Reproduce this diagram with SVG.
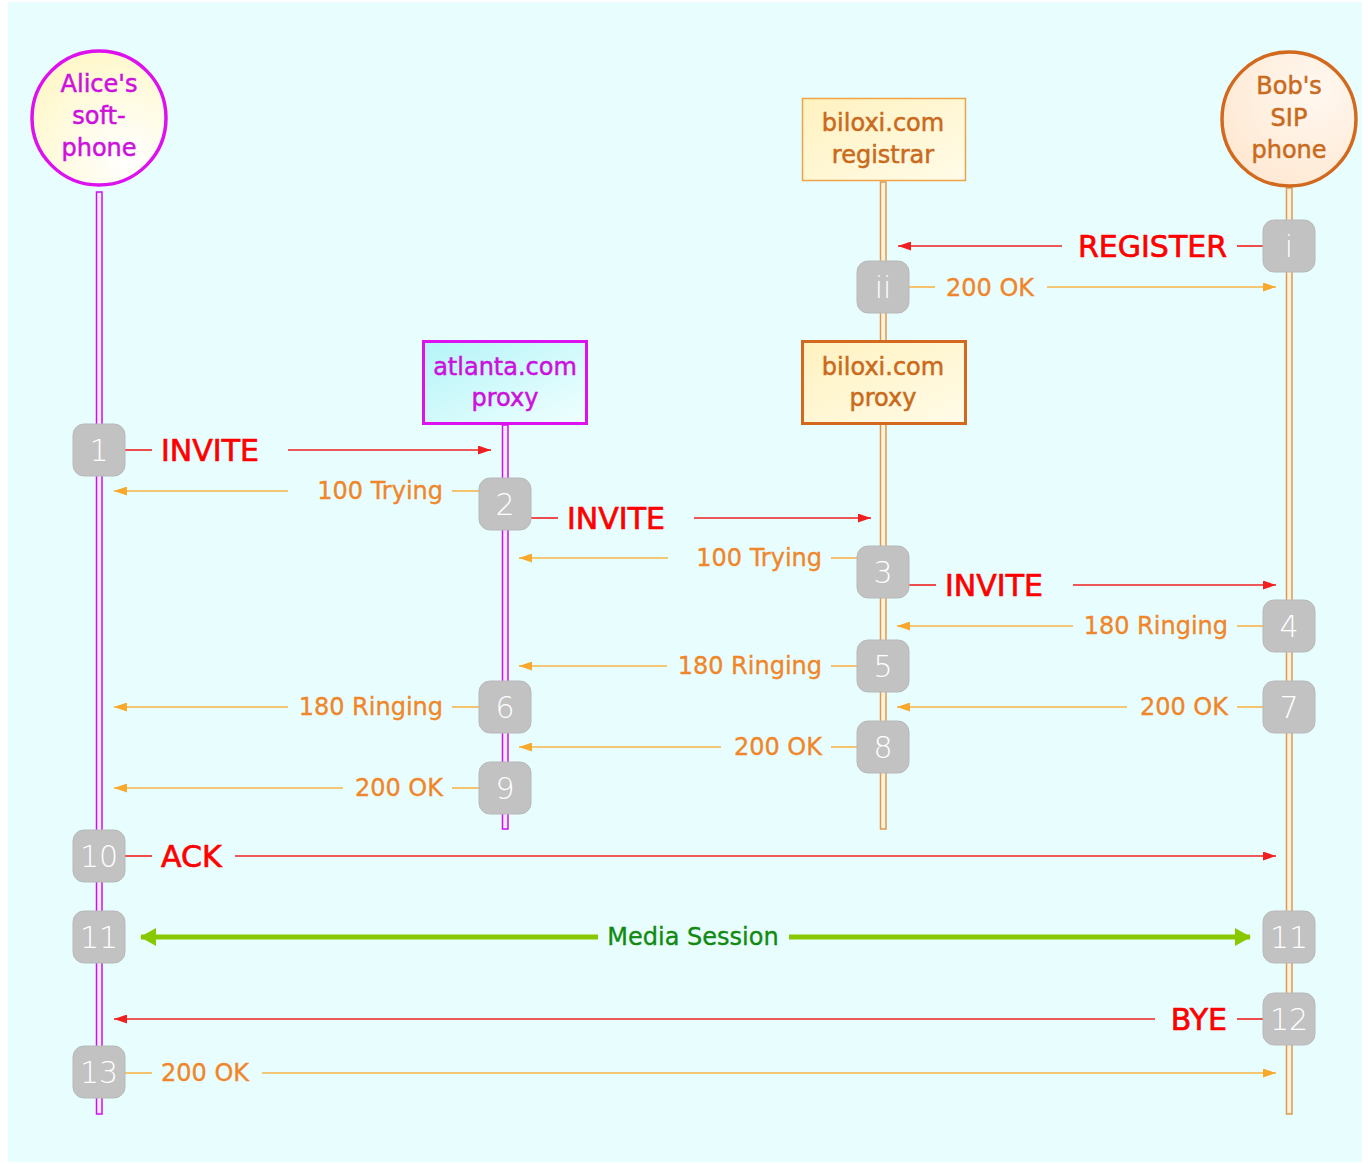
<svg xmlns="http://www.w3.org/2000/svg" width="1368" height="1164" viewBox="0 0 1368 1164">
<defs>
<style>
text{font-family:"DejaVu Sans","Liberation Sans",sans-serif}
.nt{font-size:24px;text-anchor:middle;stroke-width:0.5}
.mag{fill:#cc11dd;stroke:#cc11dd}
.org{fill:#c96a1c;stroke:#c96a1c}
.badge rect{fill:#c2c2c2;stroke:#b8b8b8;stroke-width:1}
.badge text{font-size:30px;fill:#ffffff;text-anchor:middle;font-weight:200}
.red{stroke:#f02020;stroke-width:1.6;fill:none}
.ora{stroke:#f8b44a;stroke-width:1.6;fill:none}
.lr{font-size:30px;fill:#ff0000;stroke:#ff0000;stroke-width:0.7}
.lo{font-size:24px;fill:#f0862a;stroke:#f0862a;stroke-width:0.35}
.end{text-anchor:end}
.llm{fill:#f6eaff;stroke:#cc10f0;stroke-width:1.5}
.llo{fill:#fff3e0;stroke:#dc9a50;stroke-width:1.5}
</style>
<marker id="ar" markerUnits="userSpaceOnUse" markerWidth="13" markerHeight="9" refX="13" refY="4.5" orient="auto"><path d="M0,0 L13,4.5 L0,9 z" fill="#f02020"/></marker>
<marker id="ao" markerUnits="userSpaceOnUse" markerWidth="13" markerHeight="9" refX="13" refY="4.5" orient="auto"><path d="M0,0 L13,4.5 L0,9 z" fill="#f8a82a"/></marker>
<marker id="ag" markerUnits="userSpaceOnUse" markerWidth="16" markerHeight="18" refX="15" refY="9" orient="auto"><path d="M0,0 L16,9 L0,18 z" fill="#88c800"/></marker>
<radialGradient id="gA" cx="0.7" cy="0.8" r="0.8"><stop offset="0" stop-color="#ffffff"/><stop offset="1" stop-color="#fff8cc"/></radialGradient>
<radialGradient id="gB" cx="0.7" cy="0.3" r="0.8"><stop offset="0" stop-color="#fff8f0"/><stop offset="1" stop-color="#ffe8d2"/></radialGradient>
<linearGradient id="gC" x1="0" y1="0" x2="1" y2="1"><stop offset="0" stop-color="#b4f4f8"/><stop offset="1" stop-color="#f0ffff"/></linearGradient>
<linearGradient id="gY" x1="0" y1="0" x2="1" y2="1"><stop offset="0" stop-color="#fff2c0"/><stop offset="1" stop-color="#fffbe8"/></linearGradient>
</defs>
<rect x="0" y="0" width="1368" height="1164" fill="#ffffff"/>
<rect x="8" y="2" width="1354" height="1160" fill="#e8fefe"/>

<g id="lifelines">
<rect class="llm" x="96.5" y="192" width="5.5" height="922"/>
<rect class="llm" x="502.5" y="425" width="5.5" height="404"/>
<rect class="llo" x="880.5" y="182" width="5.5" height="647"/>
<rect class="llo" x="1286.5" y="188" width="5.5" height="926"/>
</g>

<g id="alice">
<circle cx="99" cy="118" r="67" fill="url(#gA)" stroke="#dd11ee" stroke-width="3.5"/>
<text class="nt mag" x="99" y="92">Alice's</text>
<text class="nt mag" x="99" y="124">soft-</text>
<text class="nt mag" x="99" y="156">phone</text>
</g>
<g id="bob">
<circle cx="1289" cy="119" r="67" fill="url(#gB)" stroke="#d2691e" stroke-width="3.5"/>
<text class="nt org" x="1289" y="94">Bob's</text>
<text class="nt org" x="1289" y="126">SIP</text>
<text class="nt org" x="1289" y="158">phone</text>
</g>
<g id="registrar">
<rect x="802.5" y="98.5" width="163" height="82" fill="url(#gY)" stroke="#f0a448" stroke-width="1.5"/>
<text class="nt org" x="883" y="131">biloxi.com</text>
<text class="nt org" x="883" y="163">registrar</text>
</g>
<g id="atlanta">
<rect x="423.5" y="341.5" width="163" height="82" fill="url(#gC)" stroke="#dd11ee" stroke-width="3"/>
<text class="nt mag" x="505" y="375">atlanta.com</text>
<text class="nt mag" x="505" y="406">proxy</text>
</g>
<g id="biloxiproxy">
<rect x="802.5" y="341.5" width="163" height="82" fill="url(#gY)" stroke="#d2691e" stroke-width="3"/>
<text class="nt org" x="883" y="375">biloxi.com</text>
<text class="nt org" x="883" y="406">proxy</text>
</g>

<g id="connectors">
<line class="red" x1="1263" y1="246" x2="1237" y2="246"/>
<text class="lr end" x="1227" y="257">REGISTER</text>
<line class="red" x1="1062" y1="246" x2="898" y2="246" marker-end="url(#ar)"/>
<line class="ora" x1="909" y1="287" x2="935" y2="287"/>
<text class="lo" x="946" y="296">200 OK</text>
<line class="ora" x1="1047" y1="287" x2="1276" y2="287" marker-end="url(#ao)"/>
<line class="red" x1="125" y1="450" x2="152" y2="450"/>
<text class="lr" x="161" y="461">INVITE</text>
<line class="red" x1="288" y1="450" x2="491" y2="450" marker-end="url(#ar)"/>
<line class="ora" x1="479" y1="491" x2="452" y2="491"/>
<text class="lo end" x="443" y="499">100 Trying</text>
<line class="ora" x1="288" y1="491" x2="114" y2="491" marker-end="url(#ao)"/>
<line class="red" x1="531" y1="518" x2="558" y2="518"/>
<text class="lr" x="567" y="529">INVITE</text>
<line class="red" x1="694" y1="518" x2="871" y2="518" marker-end="url(#ar)"/>
<line class="ora" x1="857" y1="558" x2="831" y2="558"/>
<text class="lo end" x="822" y="566">100 Trying</text>
<line class="ora" x1="668" y1="558" x2="519" y2="558" marker-end="url(#ao)"/>
<line class="red" x1="909" y1="585" x2="936" y2="585"/>
<text class="lr" x="945" y="596">INVITE</text>
<line class="red" x1="1073" y1="585" x2="1276" y2="585" marker-end="url(#ar)"/>
<line class="ora" x1="1263" y1="626" x2="1237" y2="626"/>
<text class="lo end" x="1228" y="634">180 Ringing</text>
<line class="ora" x1="1073" y1="626" x2="897" y2="626" marker-end="url(#ao)"/>
<line class="ora" x1="857" y1="666" x2="831" y2="666"/>
<text class="lo end" x="822" y="674">180 Ringing</text>
<line class="ora" x1="667" y1="666" x2="519" y2="666" marker-end="url(#ao)"/>
<line class="ora" x1="479" y1="707" x2="452" y2="707"/>
<text class="lo end" x="443" y="715">180 Ringing</text>
<line class="ora" x1="288" y1="707" x2="114" y2="707" marker-end="url(#ao)"/>
<line class="ora" x1="1263" y1="707" x2="1237" y2="707"/>
<text class="lo end" x="1228" y="715">200 OK</text>
<line class="ora" x1="1127" y1="707" x2="897" y2="707" marker-end="url(#ao)"/>
<line class="ora" x1="857" y1="747" x2="831" y2="747"/>
<text class="lo end" x="822" y="755">200 OK</text>
<line class="ora" x1="721" y1="747" x2="519" y2="747" marker-end="url(#ao)"/>
<line class="ora" x1="479" y1="788" x2="452" y2="788"/>
<text class="lo end" x="443" y="796">200 OK</text>
<line class="ora" x1="343" y1="788" x2="114" y2="788" marker-end="url(#ao)"/>
<line class="red" x1="125" y1="856" x2="152" y2="856"/>
<text class="lr" x="161" y="867">ACK</text>
<line class="red" x1="235" y1="856" x2="1276" y2="856" marker-end="url(#ar)"/>
<line x1="598" y1="937" x2="141" y2="937" stroke="#88c800" stroke-width="5" marker-end="url(#ag)"/>
<line x1="789" y1="937" x2="1250" y2="937" stroke="#88c800" stroke-width="5" marker-end="url(#ag)"/>
<text x="693" y="945" font-size="24" fill="#118a11" stroke="#118a11" stroke-width="0.35" text-anchor="middle">Media Session</text>
<line class="red" x1="1263" y1="1019" x2="1237" y2="1019"/>
<text class="lr end" x="1227" y="1030">BYE</text>
<line class="red" x1="1155" y1="1019" x2="114" y2="1019" marker-end="url(#ar)"/>
<line class="ora" x1="125" y1="1073" x2="152" y2="1073"/>
<text class="lo" x="161" y="1081">200 OK</text>
<line class="ora" x1="262" y1="1073" x2="1276" y2="1073" marker-end="url(#ao)"/>
</g>

<g id="badges">
<g class="badge" id="b-i"><rect x="1263" y="220" width="52" height="52" rx="11"/><text x="1289" y="257">i</text></g>
<g class="badge" id="b-ii"><rect x="857" y="261" width="52" height="52" rx="11"/><text x="883" y="298">ii</text></g>
<g class="badge" id="b-1"><rect x="73" y="424" width="52" height="52" rx="11"/><text x="99" y="461">1</text></g>
<g class="badge" id="b-2"><rect x="479" y="478" width="52" height="52" rx="11"/><text x="505" y="515">2</text></g>
<g class="badge" id="b-3"><rect x="857" y="546" width="52" height="52" rx="11"/><text x="883" y="583">3</text></g>
<g class="badge" id="b-4"><rect x="1263" y="600" width="52" height="52" rx="11"/><text x="1289" y="637">4</text></g>
<g class="badge" id="b-5"><rect x="857" y="640" width="52" height="52" rx="11"/><text x="883" y="677">5</text></g>
<g class="badge" id="b-6"><rect x="479" y="681" width="52" height="52" rx="11"/><text x="505" y="718">6</text></g>
<g class="badge" id="b-7"><rect x="1263" y="681" width="52" height="52" rx="11"/><text x="1289" y="718">7</text></g>
<g class="badge" id="b-8"><rect x="857" y="721" width="52" height="52" rx="11"/><text x="883" y="758">8</text></g>
<g class="badge" id="b-9"><rect x="479" y="762" width="52" height="52" rx="11"/><text x="505" y="799">9</text></g>
<g class="badge" id="b-10"><rect x="73" y="830" width="52" height="52" rx="11"/><text x="99" y="867">10</text></g>
<g class="badge" id="b-11a"><rect x="73" y="911" width="52" height="52" rx="11"/><text x="99" y="948">11</text></g>
<g class="badge" id="b-11b"><rect x="1263" y="911" width="52" height="52" rx="11"/><text x="1289" y="948">11</text></g>
<g class="badge" id="b-12"><rect x="1263" y="993" width="52" height="52" rx="11"/><text x="1289" y="1030">12</text></g>
<g class="badge" id="b-13"><rect x="73" y="1046" width="52" height="52" rx="11"/><text x="99" y="1083">13</text></g>
</g>
</svg>
